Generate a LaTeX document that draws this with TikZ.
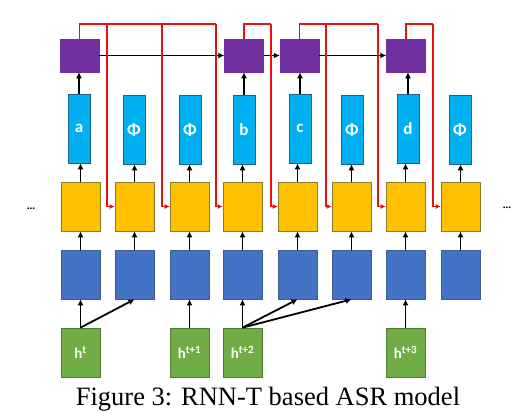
\documentclass[tikz,border=0pt]{standalone}
\usepackage{fontspec}
\setmainfont{Liberation Serif}
\newfontfamily\lblfont{Carlito}
\usetikzlibrary{arrows.meta}
\definecolor{cpurple}{HTML}{7030A0}
\definecolor{ccyan}{HTML}{00B0F0}
\definecolor{ccyanb}{HTML}{1F5F8F}
\definecolor{cyellow}{HTML}{FFC000}
\definecolor{cyellowb}{HTML}{8A7A2A}
\definecolor{cblue}{HTML}{4472C4}
\definecolor{cblueb}{HTML}{3A5F8F}
\definecolor{cgreen}{HTML}{70AD47}
\definecolor{cgreenb}{HTML}{4E7A32}
\definecolor{cred}{HTML}{E81010}
\tikzset{
  box/.style={minimum width=39pt, minimum height=49pt, inner sep=0pt, line width=0.7pt},
  ybox/.style={box, fill=cyellow, draw=cyellowb},
  bbox/.style={box, fill=cblue, draw=cblueb},
  gbox/.style={box, fill=cgreen, draw=cgreenb, text=white, font=\lblfont\bfseries\fontsize{15}{15}\selectfont},
  pbox/.style={minimum width=39pt, minimum height=33pt, inner sep=0pt, fill=cpurple, draw=cpurple, line width=0.5pt},
  cbox/.style={minimum width=22pt, minimum height=69pt, inner sep=0pt, fill=ccyan, draw=ccyanb, line width=0.7pt, text=white, font=\lblfont\bfseries\fontsize{17}{17}\selectfont},
  arr/.style={line width=1.8pt, -{Latex[length=6pt,width=6pt]}},
  redarr/.style={cred, line width=1.4pt, -{Latex[length=5pt,width=5pt]}},
  redln/.style={cred, line width=1.4pt},
}
\newcommand{\hsup}[1]{h\textsuperscript{\fontsize{11}{11}\selectfont #1}}
\begin{document}
\begin{tikzpicture}[x=1pt,y=-1pt]
\useasboundingbox (0,0) rectangle (518,412);
% columns
\foreach \i/\x in {1/80.5,2/134.5,3/189.5,4/242.5,5/297.5,6/351.5,7/405.5,8/460.5}{
  \node[ybox] (Y\i) at (\x,206.5) {};
  \node[bbox] (B\i) at (\x,274.5) {};
}
\node[cbox] (C1) at (79,128.5) {a};
\node[cbox] (C2) at (134,129.5) {Φ};
\node[cbox] (C3) at (190,129.5) {Φ};
\node[cbox] (C4) at (244,129.5) {b};
\node[cbox] (C5) at (300,128.5) {c};
\node[cbox] (C6) at (352,129.5) {Φ};
\node[cbox] (C7) at (408,128.5) {d};
\node[cbox] (C8) at (460,129.5) {Φ};
\node[pbox] (P1) at (79.5,55.5) {};
\node[pbox] (P4) at (244,55.5) {};
\node[pbox] (P5) at (299.5,55.5) {};
\node[pbox] (P7) at (406,55.5) {};
\node[gbox] (G1) at (80.5,352.5) {\hsup{t}};
\node[gbox] (G3) at (189.5,352.5) {\hsup{t+1}};
\node[gbox] (G4) at (242.5,352.5) {\hsup{t+2}};
\node[gbox] (G7) at (405.5,352.5) {\hsup{t+3}};
\node (L) at (31,209) {\bfseries\fontsize{11}{11}\selectfont ...};
\node (R) at (507,208) {\bfseries\fontsize{11}{11}\selectfont ...};
\node[anchor=base] (cap) at (268,405.5) {\fontsize{26.5}{26.5}\selectfont Figure 3: RNN-T based ASR model};
% vertical black arrows
\foreach \i in {1,...,8}{
  \draw[arr] (B\i.north) -- (Y\i.south);
  \draw[arr] (Y\i.north) -- (Y\i.north |- C\i.south);
}
\foreach \i in {1,4,5,7}{
  \draw[arr] (C\i.north) -- (C\i.north |- P\i.south);
}
% green to blue
\draw[arr] (G1.north) -- (B1.south);
\draw[arr] (G1.north) -- (B2.south);
\draw[arr] (G3.north) -- (B3.south);
\draw[arr] (G4.north) -- (B4.south);
\draw[arr] (G4.north) -- (B5.south);
\draw[arr] (G4.north) -- (B6.south);
\draw[arr] (G7.north) -- (B7.south);
% purple chain
\draw[arr] (P1.east) -- (P4.west);
\draw[arr] (P4.east) -- (P5.west);
\draw[arr] (P5.east) -- (P7.west);
% red feedback
\coordinate (r1a) at (107,24);
\coordinate (r1b) at (162,24);
\coordinate (r1c) at (216,24);
\coordinate (r4) at (271,24);
\coordinate (r5a) at (326,24);
\coordinate (r5b) at (378,24);
\coordinate (r7) at (433,24);
\draw[redln] (P1.north) |- (r1c);
\draw[redarr] (r1a) -- (r1a |- Y2.west) -- (Y2.west);
\draw[redarr] (r1b) -- (r1b |- Y3.west) -- (Y3.west);
\draw[redarr] (r1c) -- (r1c |- Y4.west) -- (Y4.west);
\draw[redln] (P4.north) |- (r4);
\draw[redarr] (r4) -- (r4 |- Y5.west) -- (Y5.west);
\draw[redln] (P5.north) |- (r5b);
\draw[redarr] (r5a) -- (r5a |- Y6.west) -- (Y6.west);
\draw[redarr] (r5b) -- (r5b |- Y7.west) -- (Y7.west);
\draw[redln] (P7.north) |- (r7);
\draw[redarr] (r7) -- (r7 |- Y8.west) -- (Y8.west);
\end{tikzpicture}
\end{document}
